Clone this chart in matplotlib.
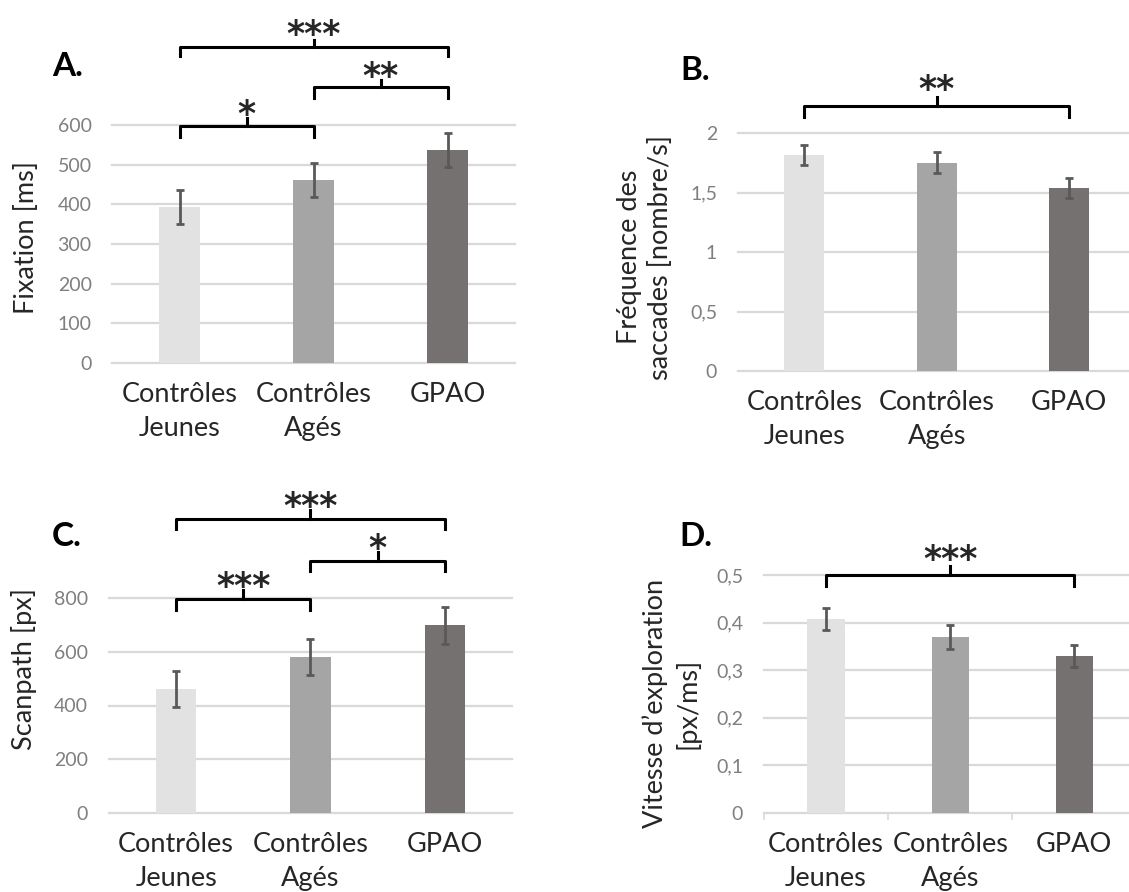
import matplotlib
matplotlib.use("Agg")
import matplotlib.pyplot as plt

plt.rcParams["font.family"] = ["Lato", "DejaVu Sans"]

# ── Data ────────────────────────────────────────────────────────────────────
groups = ["Contrôles\nJeunes", "Contrôles\nAgés", "GPAO"]
bar_colors = ["#E3E2E2", "#A5A5A5", "#767171"]

fixation = [393, 461, 537]
fixation_err = [42, 43, 42]

saccades = [1.815, 1.75, 1.535]
saccades_err = [0.085, 0.09, 0.085]

scanpath = [462, 582, 698]
scanpath_err = [68, 67, 69]

vitesse = [0.408, 0.370, 0.329]
vitesse_err = [0.023, 0.025, 0.023]

# brackets: (i, j, y_line, drop, tick, y_stars, label)
brackets_a = [(0, 2, 796, 23, 18, 852, "***"),
              (1, 2, 695, 28, 18, 746, "**"),
              (0, 1, 597, 28, 20, 650, "*")]
brackets_b = [(0, 2, 2.227, 0.093, 0.075, 2.445, "**")]
brackets_c = [(0, 2, 1094, 37, 33, 1176, "***"),
              (1, 2, 938, 38, 33, 1020, "*"),
              (0, 1, 796, 41, 34, 878, "***")]
brackets_d = [(0, 2, 0.500, 0.023, 0.019, 0.553, "***")]

GRID = "#D9D9D9"
TICK = "#7F7F7F"
TEXT = "#262626"

W, H = 1129, 892
fig = plt.figure(figsize=(W / 100, H / 100), dpi=100)


def add_axes(left, right, top, bottom):
    return fig.add_axes([left / W, 1 - bottom / H, (right - left) / W, (bottom - top) / H])


def draw_panel(ax, values, errs, yticks, yticklabels, ylabel, xmax,
               label_px, brackets, xticks_between=False):
    x = range(len(values))
    ax.bar(x, values, width=0.3, color=bar_colors, zorder=2)
    ax.errorbar(x, values, yerr=errs, fmt="none", ecolor="#595959",
                elinewidth=2, capsize=3.2, capthick=2, zorder=3)

    ax.set_ylim(yticks[0], yticks[-1])
    ax.set_xlim(-0.5, xmax)
    ax.set_yticks(yticks)
    ax.set_yticklabels(yticklabels, color=TICK, fontsize=14)
    for y in yticks:
        ax.axhline(y, color=GRID, linewidth=1.6, zorder=1, clip_on=False)
    for s in ax.spines.values():
        s.set_visible(False)
    ax.tick_params(axis="y", length=0, pad=15)
    ax.set_xticks(list(x))
    ax.set_xticklabels(groups, fontsize=19.5, color=TEXT, linespacing=1.45)
    ax.tick_params(axis="x", length=0, pad=14)
    if xticks_between:
        ax.set_xticks([-0.5, 0.5, 1.5], minor=True)
        ax.tick_params(axis="x", which="minor", length=5, color=GRID, width=1.2)

    # axis title placed by its centre (pixels from top-left)
    fig.text(label_px[0] / W, 1 - label_px[1] / H, ylabel, rotation=90,
             ha="center", va="center", fontsize=19.5, color=TEXT,
             linespacing=1.3, multialignment="center")

    for i, j, yl, drop, tick, ys, lab in brackets:
        mid = (i + j) / 2
        ax.plot([i, i, j, j], [yl - drop, yl, yl, yl - drop], color="black",
                linewidth=2.2, clip_on=False, solid_joinstyle="round", zorder=4)
        ax.plot([mid, mid], [yl, yl + tick], color="black", linewidth=2.2,
                clip_on=False, zorder=4)
        ax.annotate(lab, (mid, ys), xytext=(0, -14.5), textcoords="offset points",
                    ha="center", va="baseline", fontsize=25, color=TEXT,
                    family="DejaVu Sans", fontweight="bold", annotation_clip=False)


ax_a = add_axes(112.5, 514.5, 125, 363)
ax_b = add_axes(738, 1129, 133, 371)
ax_c = add_axes(109, 512, 598, 813)
ax_d = add_axes(764, 1129, 575, 813)

draw_panel(ax_a, fixation, fixation_err, [0, 100, 200, 300, 400, 500, 600],
           ["0", "100", "200", "300", "400", "500", "600"],
           "Fixation [ms]", 2.5, (27, 238), brackets_a)
draw_panel(ax_b, saccades, saccades_err, [0, 0.5, 1, 1.5, 2],
           ["0", "0,5", "1", "1,5", "2"],
           "Fréquence des\nsaccades [nombre/s]", 2.45, (645, 257), brackets_b)
draw_panel(ax_c, scanpath, scanpath_err, [0, 200, 400, 600, 800],
           ["0", "200", "400", "600", "800"],
           "Scanpath [px]", 2.5, (24, 669), brackets_c)
draw_panel(ax_d, vitesse, vitesse_err, [0, 0.1, 0.2, 0.3, 0.4, 0.5],
           ["0", "0,1", "0,2", "0,3", "0,4", "0,5"],
           "Vitesse d\u2019exploration\n[px/ms]", 2.44, (671, 703), brackets_d,
           xticks_between=True)

for lab, (px, py) in zip(["A.", "B.", "C.", "D."],
                         [(52, 66), (680, 70), (52, 536), (679, 536)]):
    fig.text(px / W, 1 - py / H, lab, fontsize=24, fontweight="bold",
             color="black", ha="left", va="center")

fig.savefig("out.png", dpi=100)
